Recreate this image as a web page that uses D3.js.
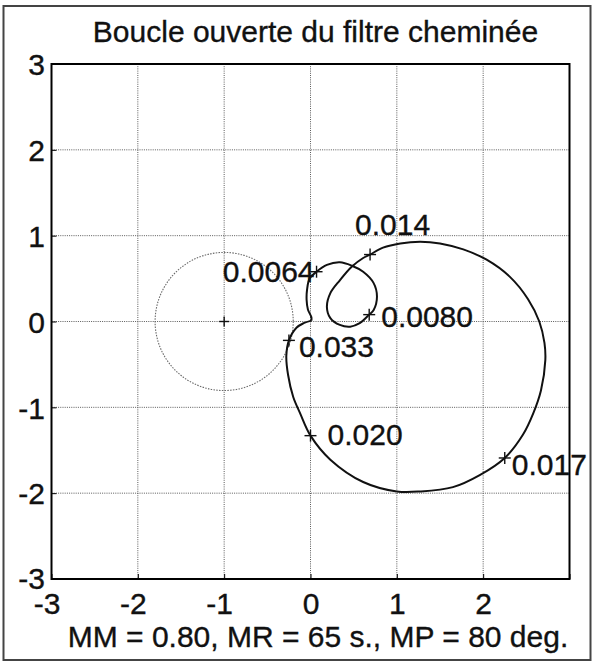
<!DOCTYPE html>
<html>
<head>
<meta charset="utf-8">
<script src="https://cdn.jsdelivr.net/npm/d3@7"></script>
<style>
  html, body { margin: 0; padding: 0; background: #fff; }
  svg { display: block; }
  text { font-family: "Liberation Sans", Arial, Helvetica, sans-serif; fill: #111; stroke: #111; stroke-width: 0.35px; }
</style>
</head>
<body>
<svg id="chart" width="596" height="663"></svg>
<script>
// Open-loop Nyquist locus of the chimney filter (real / imaginary parts)
const nyquistRe = [0.01, 0.01, -0.03, -0.045, -0.04, -0.01, 0.07, 0.19, 0.34, 0.48, 0.61, 0.73, 0.77, 0.73,
  0.68, 0.57, 0.46, 0.34, 0.23, 0.19, 0.23, 0.34, 0.48, 0.61, 0.69, 0.84, 1.04, 1.27, 1.50, 1.77, 2.04,
  2.31, 2.52, 2.65, 2.71, 2.72, 2.67, 2.58, 2.46, 2.25, 1.96, 1.65, 1.27, 1.00, 0.61, 0.23, 0.00, -0.12,
  -0.20, -0.26, -0.28, -0.25, -0.16, -0.08, 0.01];
const nyquistIm = [0.01, 0.05, 0.14, 0.25, 0.37, 0.50, 0.58, 0.66, 0.69, 0.65, 0.58, 0.45, 0.29, 0.13,
  0.08, -0.02, -0.06, -0.04, 0.04, 0.17, 0.33, 0.48, 0.64, 0.74, 0.78, 0.86, 0.91, 0.93, 0.91, 0.84, 0.72,
  0.52, 0.26, 0.00, -0.25, -0.45, -0.80, -1.07, -1.32, -1.59, -1.79, -1.93, -1.98, -1.98, -1.87, -1.61, -1.33, -1.07,
  -0.88, -0.62, -0.40, -0.22, -0.07, -0.02, 0.01];

// Frequency markers along the locus
const freqLabels = ["0.0064", "0.0080", "0.014", "0.017", "0.020", "0.033"];
const freqRe = [0.07, 0.68, 0.69, 2.25, 0.00, -0.25];
const freqIm = [0.58, 0.08, 0.78, -1.59, -1.33, -0.22];

// Modulus-margin circle around the critical point
const criticalPoint = [-1, 0];
const modulusMargin = 0.80;

// Axis ticks
const xTicks = [-3, -2, -1, 0, 1, 2, 3];
const xTickLabels = ["-3", "-2", "-1", "0", "1", "2", ""];
const yTicks = [-3, -2, -1, 0, 1, 2, 3];
const yTickLabels = ["-3", "-2", "-1", "0", "1", "2", "3"];

const titleText = "Boucle ouverte du filtre cheminée";
const footerText = "MM = 0.80, MR = 65 s., MP = 80 deg.";

// ---- layout ----
const svg = d3.select("#chart");
const plot = { left: 51.5, right: 569.5, top: 64, bottom: 579 };
const x = d3.scaleLinear().domain([-3, 3]).range([plot.left, plot.right]);
const y = d3.scaleLinear().domain([-3, 3]).range([plot.bottom, plot.top]);

// figure frame
svg.append("rect")
  .attr("x", 3.5).attr("y", 6).attr("width", 587).attr("height", 654)
  .attr("fill", "none").attr("stroke", "#444").attr("stroke-width", 2);

// title
svg.append("text")
  .attr("x", (plot.left + plot.right) / 2 + 5).attr("y", 42)
  .attr("text-anchor", "middle").attr("font-size", 30)
  .text(titleText);

// grid
const grid = svg.append("g")
  .attr("stroke", "#5a5a5a").attr("stroke-width", 1).attr("stroke-dasharray", "1,1.2");
grid.selectAll("line.vx").data(xTicks.slice(1, -1)).join("line")
  .attr("x1", d => x(d)).attr("x2", d => x(d))
  .attr("y1", plot.top).attr("y2", plot.bottom);
grid.selectAll("line.hy").data(yTicks.slice(1, -1)).join("line")
  .attr("y1", d => y(d)).attr("y2", d => y(d))
  .attr("x1", plot.left).attr("x2", plot.right);

// axes (ticks inward, labels outside)
const xAxis = d3.axisBottom(x).tickValues(xTicks)
  .tickFormat((d, i) => xTickLabels[i]).tickSizeInner(-5).tickSizeOuter(0).tickPadding(14);
const yAxis = d3.axisLeft(y).tickValues(yTicks)
  .tickFormat((d, i) => yTickLabels[i]).tickSizeInner(-5).tickSizeOuter(0).tickPadding(7);

const gx = svg.append("g").attr("transform", `translate(0,${plot.bottom})`).call(xAxis);
const gy = svg.append("g").attr("transform", `translate(${plot.left},0)`).call(yAxis);
[gx, gy].forEach(g => {
  g.select(".domain").remove();
  g.selectAll(".tick line").attr("stroke", "#000").attr("stroke-width", 1);
  g.selectAll("text").attr("font-size", 30).attr("fill", "#111")
    .attr("font-family", "Liberation Sans, Arial, sans-serif");
});
gx.selectAll("text").attr("dx", d => d < 0 ? -5 : 0);
gy.selectAll("text").attr("dy", d => d === -3 ? "0.3em" : "0.36em").attr("x", -6.5);

// modulus-margin circle (dotted)
svg.append("circle")
  .attr("cx", x(criticalPoint[0])).attr("cy", y(criticalPoint[1]))
  .attr("r", x(modulusMargin) - x(0))
  .attr("fill", "none").attr("stroke", "#6a6a6a").attr("stroke-width", 1.1)
  .attr("stroke-dasharray", "1.5,1.3");

// plus marker helper
function plus(g, px, py, half) {
  g.append("line").attr("x1", px - half).attr("x2", px + half).attr("y1", py).attr("y2", py);
  g.append("line").attr("x1", px).attr("x2", px).attr("y1", py - half).attr("y2", py + half);
}

const marks = svg.append("g").attr("stroke", "#111").attr("stroke-width", 1.4);
plus(marks, x(criticalPoint[0]), y(criticalPoint[1]), 5);

// Nyquist locus
const pts = nyquistRe.map((r, i) => [r, nyquistIm[i]]);
const line = d3.line().x(d => x(d[0])).y(d => y(d[1])).curve(d3.curveCatmullRom.alpha(0.5));
svg.append("path").datum(pts)
  .attr("d", line)
  .attr("fill", "none").attr("stroke", "#111").attr("stroke-width", 2)
  .attr("stroke-linejoin", "round");

// frequency markers and labels
const labelPlacement = {
  "0.0064": { anchor: "end",   dx: -2,  dy: 10 },
  "0.0080": { anchor: "start", dx: 12,  dy: 12 },
  "0.014":  { anchor: "start", dx: -15, dy: -20 },
  "0.017":  { anchor: "start", dx: 7,   dy: 17 },
  "0.020":  { anchor: "start", dx: 17,  dy: 9 },
  "0.033":  { anchor: "start", dx: 10,  dy: 17 }
};
freqLabels.forEach((lab, i) => {
  const px = x(freqRe[i]), py = y(freqIm[i]);
  plus(marks, px, py, 6);
  const p = labelPlacement[lab];
  svg.append("text")
    .attr("x", px + p.dx).attr("y", py + p.dy)
    .attr("text-anchor", p.anchor).attr("font-size", 30)
    .text(lab);
});

// axes box
svg.append("rect")
  .attr("x", plot.left).attr("y", plot.top)
  .attr("width", plot.right - plot.left).attr("height", plot.bottom - plot.top)
  .attr("fill", "none").attr("stroke", "#000").attr("stroke-width", 2);

// footer
svg.append("text")
  .attr("x", 318).attr("y", 647)
  .attr("text-anchor", "middle").attr("font-size", 30)
  .text(footerText);
</script>
</body>
</html>
